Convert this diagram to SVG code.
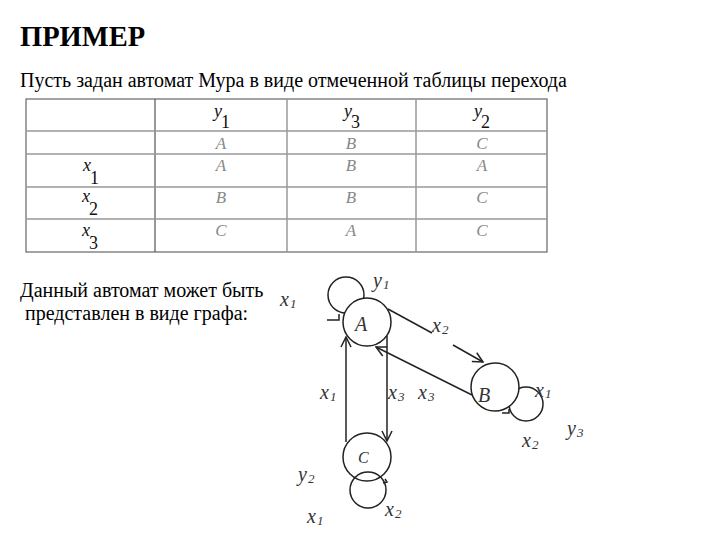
<svg xmlns="http://www.w3.org/2000/svg" width="720" height="540" viewBox="0 0 720 540" font-family="'Liberation Serif', 'Times New Roman', 'DejaVu Serif', serif">
<defs>
<style>
text{font-family:'Liberation Serif','Times New Roman','DejaVu Serif',serif}
.t{fill:#000}
.h{font-size:28.5px;font-weight:bold}
.p{font-size:20px}
.tv{font-style:italic;font-size:18px;fill:#111}
.ts{font-size:18px;fill:#111}
.tg{font-style:italic;font-size:17px;fill:#888;text-anchor:middle}
.gl{font-style:italic;font-size:20px;fill:#333}
.gs{font-style:italic;font-size:13px;fill:#333}
.node{fill:#fff;stroke:#222;stroke-width:1.5}
.loop{fill:none;stroke:#222;stroke-width:1.5}
.e{fill:none;stroke:#222;stroke-width:1.5}
.grid{stroke:#999;stroke-width:1.5}
</style>
<marker id="arr" viewBox="0 0 12 12" refX="11" refY="6" markerWidth="12" markerHeight="12" markerUnits="userSpaceOnUse" orient="auto">
<path d="M1,1 L11,6 L1,11" fill="none" stroke="#222" stroke-width="1.5"/>
</marker>
</defs>
<rect width="720" height="540" fill="#fff"/>
<text class="t h" x="20" y="46">ПРИМЕР</text>
<text class="t p" x="20" y="87">Пусть задан автомат Мура в виде отмеченной таблицы перехода</text>
<g id="table">
<rect x="26" y="99" width="521" height="153" fill="none" stroke="#666" stroke-width="1.2"/>
<line class="grid" x1="155" y1="99" x2="155" y2="252" style="stroke:#555;stroke-width:1.2"/>
<line class="grid" x1="287" y1="99" x2="287" y2="252"/>
<line class="grid" x1="416" y1="99" x2="416" y2="252"/>
<line class="grid" x1="26" y1="131" x2="547" y2="131"/>
<line class="grid" x1="26" y1="154" x2="547" y2="154"/>
<line class="grid" x1="26" y1="187" x2="547" y2="187"/>
<line class="grid" x1="26" y1="219" x2="547" y2="219"/>
<text class="tv" x="214" y="117">y</text><text class="ts" x="221" y="128">1</text>
<text class="tv" x="344" y="117">y</text><text class="ts" x="351" y="128">3</text>
<text class="tv" x="474" y="117">y</text><text class="ts" x="481" y="128">2</text>
<text class="tg" x="221" y="149">A</text><text class="tg" x="351" y="149">B</text><text class="tg" x="482" y="149">C</text>
<text class="tv" x="83" y="171">x</text><text class="ts" x="90" y="184">1</text>
<text class="tg" x="221" y="171">A</text><text class="tg" x="351" y="171">B</text><text class="tg" x="482" y="171">A</text>
<text class="tv" x="82" y="202">x</text><text class="ts" x="89" y="215">2</text>
<text class="tg" x="221" y="203">B</text><text class="tg" x="351" y="203">B</text><text class="tg" x="482" y="203">C</text>
<text class="tv" x="82" y="236">x</text><text class="ts" x="89" y="249">3</text>
<text class="tg" x="221" y="236">C</text><text class="tg" x="351" y="236">A</text><text class="tg" x="482" y="236">C</text>
</g>
<text class="t p" x="20" y="297">Данный автомат может быть</text>
<text class="t p" x="25" y="320">представлен в виде графа:</text>
<g id="connectors">
<line class="e" x1="388" y1="309" x2="432" y2="333"/>
<line class="e" x1="453" y1="345" x2="483" y2="362" marker-end="url(#arr)"/>
<line class="e" x1="472" y1="395" x2="376" y2="347" marker-end="url(#arr)"/>
<line class="e" x1="346" y1="442" x2="346" y2="337" marker-end="url(#arr)"/>
<line class="e" x1="387" y1="336" x2="387" y2="441" marker-end="url(#arr)"/>
</g>
<g id="node-A">
<circle class="loop" cx="346" cy="295" r="18"/>
<polyline class="loop" points="327,320 339,320 339,314"/>
<circle class="node" cx="367" cy="322" r="24"/>
<text class="gl" x="355" y="331">A</text>
<text class="gl" x="373" y="287">y</text><text class="gs" x="383" y="289">1</text>
<text class="gl" x="280" y="306">x</text><text class="gs" x="290" y="308">1</text>
</g>
<g id="node-B">
<circle class="loop" cx="526" cy="404" r="17"/>
<polyline class="loop" points="502,413 509,413 509,409"/>
<circle class="node" cx="495" cy="387" r="24"/>
<text class="gl" x="478" y="402">B</text>
<text class="gl" x="535" y="397">x</text><text class="gs" x="545" y="398">1</text>
<text class="gl" x="522" y="447">x</text><text class="gs" x="532" y="449">2</text>
<text class="gl" x="567" y="435">y</text><text class="gs" x="577" y="437">3</text>
</g>
<g id="node-C">
<circle class="node" cx="368" cy="490" r="18"/>
<circle class="node" cx="367" cy="457" r="24" style="fill:none"/>
<path class="loop" d="M385,479 L387,482 L383,483"/>
<text class="gl" x="358" y="463" style="font-size:16px">C</text>
<text class="gl" x="298" y="481">y</text><text class="gs" x="308" y="483">2</text>
<text class="gl" x="385" y="516">x</text><text class="gs" x="395" y="518">2</text>
<text class="gl" x="307" y="523">x</text><text class="gs" x="317" y="525">1</text>
</g>
<g id="edge-labels">
<text class="gl" x="432" y="332">x</text><text class="gs" x="442" y="334">2</text>
<text class="gl" x="320" y="399">x</text><text class="gs" x="330" y="401">1</text>
<text class="gl" x="388" y="399">x</text><text class="gs" x="398" y="401">3</text>
<text class="gl" x="418" y="399">x</text><text class="gs" x="428" y="401">3</text>
</g>
</svg>
